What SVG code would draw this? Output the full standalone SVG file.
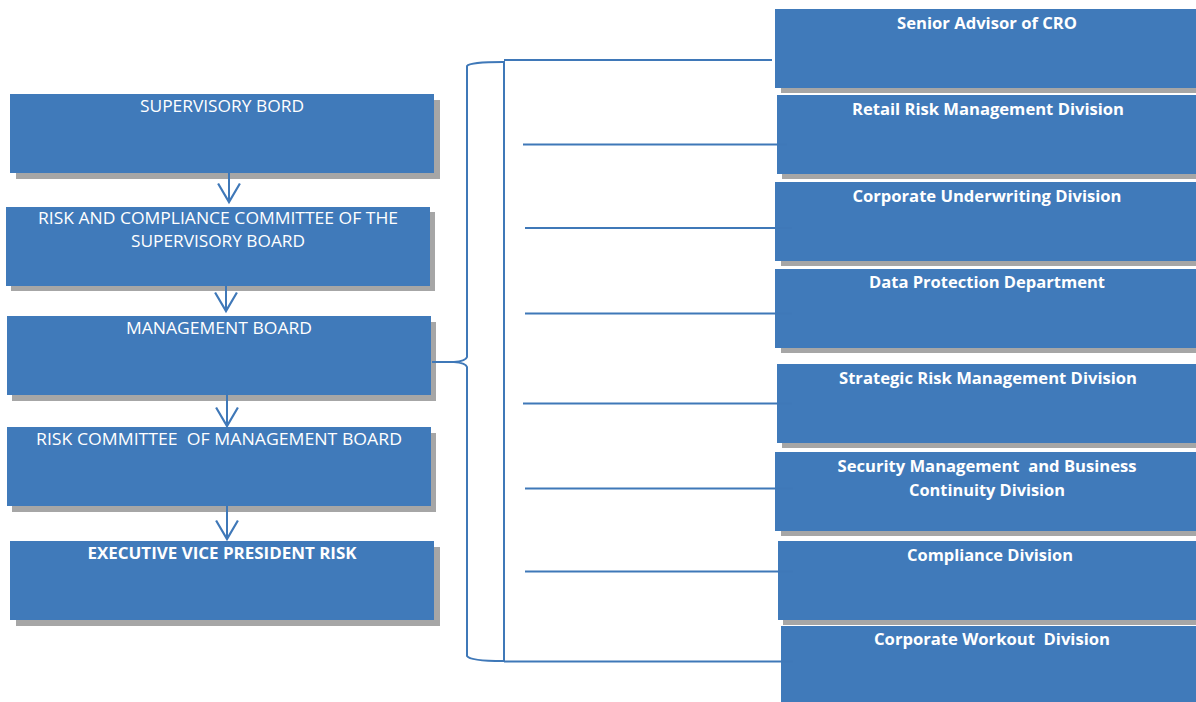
<svg xmlns="http://www.w3.org/2000/svg" width="1196" height="702" viewBox="0 0 1196 702">
<style>
.box{fill:#407ABA}
.sh{fill:#A6A6A6}
.t{font-family:"Open Sans","Liberation Sans",sans-serif;font-size:16px;fill:#FFFFFF;text-anchor:middle;white-space:pre}
.b{font-weight:bold}
.ln{stroke:#3F78B8;stroke-width:2;fill:none}
</style>
<defs>
<marker id="v" markerUnits="userSpaceOnUse" markerWidth="22" markerHeight="24" refX="18" refY="11" orient="auto" viewBox="0 0 20 22" overflow="visible">
<path d="M1,1 L18,11 L1,21" fill="none" stroke="#3F78B8" stroke-width="2"/>
</marker>
</defs>
<rect width="1196" height="702" fill="#FFFFFF"/>
<g id="supervisory-bord">
<rect class="sh" x="16" y="100" width="424" height="79"/>
<rect class="box" x="10" y="94" width="424" height="79"/>
<text class="t" x="222" y="111.5" textLength="164" lengthAdjust="spacingAndGlyphs">SUPERVISORY BORD</text>
</g>
<g id="risk-compliance-committee">
<rect class="sh" x="11" y="212" width="424" height="79"/>
<rect class="box" x="6" y="207" width="424" height="79"/>
<text class="t" x="218" y="224" textLength="360" lengthAdjust="spacingAndGlyphs">RISK AND COMPLIANCE COMMITTEE OF THE</text>
<text class="t" x="218" y="246.5" textLength="174" lengthAdjust="spacingAndGlyphs">SUPERVISORY BOARD</text>
</g>
<g id="management-board">
<rect class="sh" x="12" y="322" width="424" height="79"/>
<rect class="box" x="7" y="316" width="424" height="79"/>
<text class="t" x="219" y="334" textLength="186" lengthAdjust="spacingAndGlyphs">MANAGEMENT BOARD</text>
</g>
<g id="risk-committee">
<rect class="sh" x="12" y="433" width="424" height="79"/>
<rect class="box" x="7" y="427" width="424" height="79"/>
<text class="t" x="219" y="445" textLength="366" lengthAdjust="spacingAndGlyphs">RISK COMMITTEE  OF MANAGEMENT BOARD</text>
</g>
<g id="executive-vp-risk">
<rect class="sh" x="16" y="547" width="424" height="79"/>
<rect class="box" x="10" y="541" width="424" height="79"/>
<text class="t b" x="222" y="559" textLength="269" lengthAdjust="spacingAndGlyphs">EXECUTIVE VICE PRESIDENT RISK</text>
</g>
<g id="senior-advisor">
<rect class="sh" x="781" y="14" width="424" height="79"/>
<rect class="box" x="775" y="9" width="424" height="79"/>
<text class="t b" x="987" y="29" textLength="180" lengthAdjust="spacingAndGlyphs">Senior Advisor of CRO</text>
</g>
<g id="retail-risk">
<rect class="sh" x="782" y="100" width="424" height="79"/>
<rect class="box" x="777" y="95" width="424" height="79"/>
<text class="t b" x="988" y="115" textLength="272" lengthAdjust="spacingAndGlyphs">Retail Risk Management Division</text>
</g>
<g id="corporate-underwriting">
<rect class="sh" x="781" y="187" width="424" height="79"/>
<rect class="box" x="775" y="182" width="424" height="79"/>
<text class="t b" x="987" y="202" textLength="269" lengthAdjust="spacingAndGlyphs">Corporate Underwriting Division</text>
</g>
<g id="data-protection">
<rect class="sh" x="781" y="274" width="424" height="79"/>
<rect class="box" x="775" y="269" width="424" height="79"/>
<text class="t b" x="987" y="288" textLength="236" lengthAdjust="spacingAndGlyphs">Data Protection Department</text>
</g>
<g id="strategic-risk">
<rect class="sh" x="782" y="369" width="424" height="79"/>
<rect class="box" x="777" y="364" width="424" height="79"/>
<text class="t b" x="988" y="384" textLength="298" lengthAdjust="spacingAndGlyphs">Strategic Risk Management Division</text>
</g>
<g id="security-management">
<rect class="sh" x="781" y="457" width="424" height="79"/>
<rect class="box" x="775" y="452" width="424" height="79"/>
<text class="t b" x="987" y="472" textLength="299" lengthAdjust="spacingAndGlyphs">Security Management  and Business</text>
<text class="t b" x="987" y="496" textLength="156" lengthAdjust="spacingAndGlyphs">Continuity Division</text>
</g>
<g id="compliance">
<rect class="sh" x="783" y="546" width="424" height="79"/>
<rect class="box" x="778" y="541" width="424" height="79"/>
<text class="t b" x="990" y="561" textLength="166" lengthAdjust="spacingAndGlyphs">Compliance Division</text>
</g>
<g id="corporate-workout">
<rect class="box" x="781" y="626" width="424" height="80"/>
<text class="t b" x="992" y="645" textLength="236" lengthAdjust="spacingAndGlyphs">Corporate Workout  Division</text>
</g>
<g id="connectors">
<line class="ln" x1="229" y1="173" x2="229" y2="202" marker-end="url(#v)"/>
<line class="ln" x1="226" y1="286" x2="226" y2="311" marker-end="url(#v)"/>
<line class="ln" x1="227" y1="390" x2="227" y2="426" marker-end="url(#v)"/>
<line class="ln" x1="227" y1="506" x2="227" y2="539" marker-end="url(#v)"/>
<line class="ln" x1="432" y1="362" x2="456" y2="362"/>
<path class="ln" d="M503,62 Q470,62 467,66 L467,357 Q466,361 454,362 Q466,363 467,367 L467,656 Q470,661 503,661"/>
<line class="ln" x1="504" y1="61" x2="504" y2="662"/>
<line class="ln" x1="504" y1="60" x2="772" y2="60"/>
<line class="ln" x1="504" y1="661.5" x2="793" y2="661.5"/>
<line class="ln" x1="523" y1="144.5" x2="787" y2="144.5"/>
<line class="ln" x1="525" y1="228" x2="792" y2="228"/>
<line class="ln" x1="525" y1="313.5" x2="792" y2="313.5"/>
<line class="ln" x1="523" y1="403.5" x2="792" y2="403.5"/>
<line class="ln" x1="525" y1="488.5" x2="793" y2="488.5"/>
<line class="ln" x1="525" y1="571.5" x2="793" y2="571.5"/>
</g>
</svg>
